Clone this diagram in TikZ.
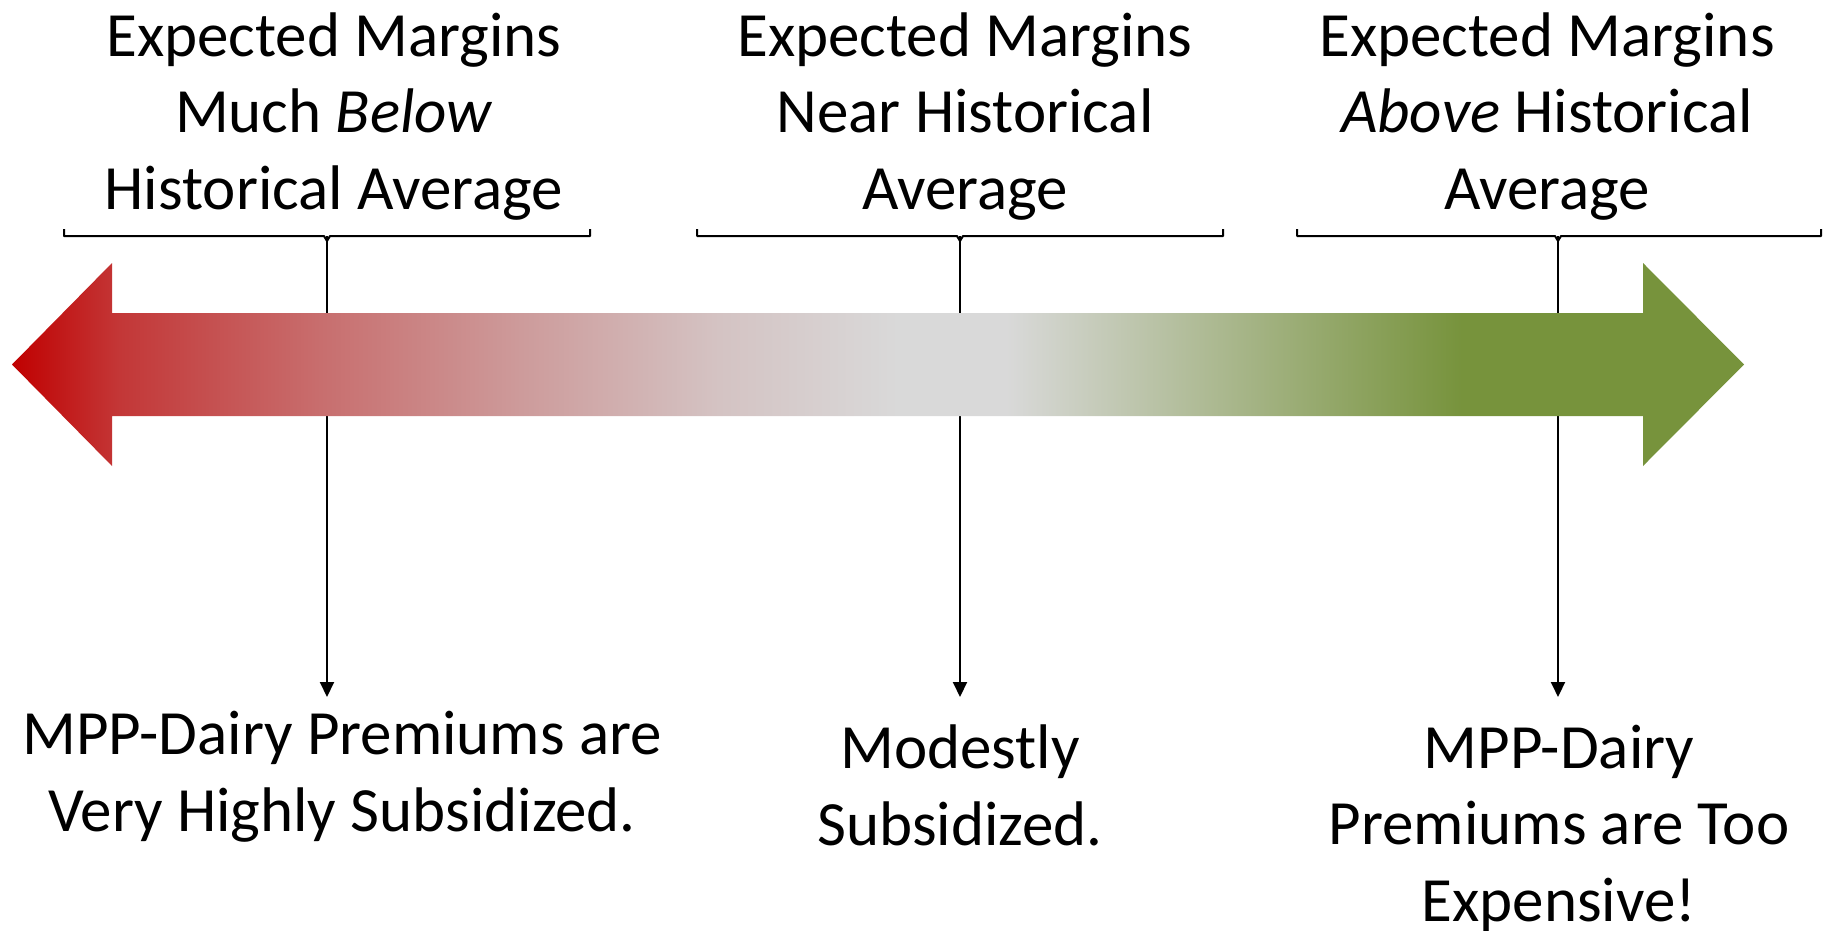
\documentclass[tikz,border=0pt]{standalone}
\usepackage{fontspec}
\setmainfont{Carlito}
\usetikzlibrary{arrows.meta}
\definecolor{arrred}{RGB}{192,0,0}
\definecolor{arrred1}{RGB}{195,55,55}
\definecolor{arrred2}{RGB}{200,110,110}
\definecolor{arrred3}{RGB}{205,155,155}
\definecolor{arrred4}{RGB}{212,195,195}
\definecolor{arrgray}{RGB}{217,217,217}
\definecolor{arrgreen}{RGB}{119,147,60}
\pgfdeclarehorizontalshading{redgraygreen}{100bp}{color(0bp)=(arrred); color(25bp)=(arrred); color(28.1bp)=(arrred1); color(33.9bp)=(arrred2); color(39.7bp)=(arrred3); color(45.4bp)=(arrred4); color(50.6bp)=(arrgray); color(53.7bp)=(arrgray); color(66.85bp)=(arrgreen); color(100bp)=(arrgreen)}
\begin{document}
\begin{tikzpicture}[x=1bp,y=-1bp,
  lbl/.style={font=\fontsize{63bp}{76.5bp}\selectfont, align=center, inner sep=0pt, anchor=base},
  bracket/.style={line width=2bp, line join=round},
  conn/.style={line width=2bp, -{Triangle[length=15bp,width=14bp]}}]
\useasboundingbox (0,0) rectangle (1827,930);
% headings (anchor = baseline of last line)
\node[lbl] (h1) at (334,209) {Expected Margins\\Much \textit{Below}\\Historical Average};
\node[lbl] (h2) at (965,209) {Expected Margins\\Near Historical\\Average};
\node[lbl] (h3) at (1547,209) {Expected Margins\\\textit{Above} Historical\\Average};
% bottom texts
\node[lbl] (t1) at (342,831) {MPP-Dairy Premiums are\\Very Highly Subsidized.};
\node[lbl] (t2) at (960,845) {Modestly\\Subsidized.};
\node[lbl] (t3) at (1559,921) {MPP-Dairy\\Premiums are Too\\Expensive!};
% brackets
\coordinate (c1) at (327,236);
\coordinate (c2) at (960,236);
\coordinate (c3) at (1558,236);
\draw[bracket] (64,229) -- (64,236) -- (324,236) -- ([yshift=-5bp]c1) -- (330,236) -- (590,236) -- (590,229);
\draw[bracket] (697,229) -- (697,236) -- (957,236) -- ([yshift=-5bp]c2) -- (963,236) -- (1223,236) -- (1223,229);
\draw[bracket] (1297,229) -- (1297,236) -- (1555,236) -- ([yshift=-5bp]c3) -- (1561,236) -- (1821,236) -- (1821,229);
% connectors
\coordinate (e1) at (327,697);
\coordinate (e2) at (960,697);
\coordinate (e3) at (1558,697);
\draw[conn] (c1) -- (e1);
\draw[conn] (c2) -- (e2);
\draw[conn] (c3) -- (e3);
% big double arrow
\path[shading=redgraygreen] (12,364.5) -- (112,263) -- (112,313) -- (1643,313) -- (1643,263) -- (1744,364.5) -- (1643,466) -- (1643,416) -- (112,416) -- (112,466) -- cycle;
\end{tikzpicture}
\end{document}
